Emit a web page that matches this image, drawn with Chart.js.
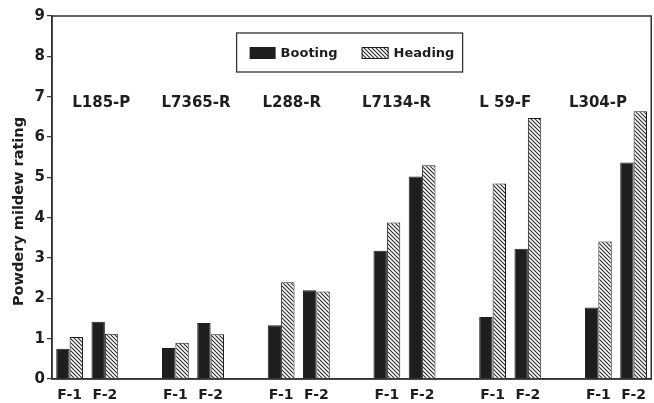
<!DOCTYPE html>
<html>
<head>
<meta charset="utf-8">
<script src="https://cdn.jsdelivr.net/npm/chart.js@4.4.1/dist/chart.umd.min.js"></script>
<style>
  html,body{margin:0;padding:0;background:#fff;}
  canvas{display:block;}
</style>
</head>
<body>
<canvas id="c" width="654" height="403"></canvas>
<script>
// ---- data ----
const groups = ['L185-P', 'L7365-R', 'L288-R', 'L7134-R', 'L 59-F', 'L304-P'];
const stages = ['F-1', 'F-2'];
const booting = [0.75, 1.42, 0.77, 1.39, 1.33, 2.20, 3.18, 5.02, 1.54, 3.23, 1.77, 5.37];
const heading = [1.04, 1.12, 0.90, 1.11, 2.40, 2.17, 3.88, 5.30, 4.85, 6.47, 3.41, 6.64];
const yTicks = [0, 1, 2, 3, 4, 5, 6, 7, 8, 9];
const seriesNames = ['Booting', 'Heading'];
const yTitle = 'Powdery mildew rating';

// build category slots: F-1, F-2, gap for each group (no trailing gap)
const labels = [], bootData = [], headData = [];
groups.forEach((g, gi) => {
  stages.forEach((s, si) => {
    labels.push(s);
    bootData.push(booting[gi * 2 + si]);
    headData.push(heading[gi * 2 + si]);
  });
  if (gi < groups.length - 1) { labels.push(''); bootData.push(null); headData.push(null); }
});

const INK = '#1e1e1e';
const FONT = '"DejaVu Sans", "Liberation Sans", Arial, sans-serif';

function makeHatch() {
  const p = document.createElement('canvas');
  p.width = 4; p.height = 4;
  const c = p.getContext('2d');
  c.fillStyle = '#fff'; c.fillRect(0, 0, 4, 4);
  c.strokeStyle = '#2a2a2a'; c.lineWidth = 1.1;
  c.beginPath();
  c.moveTo(-1, -1); c.lineTo(5, 5);
  c.moveTo(-1, 3); c.lineTo(1, 5);
  c.moveTo(3, -1); c.lineTo(5, 1);
  c.stroke();
  return document.getElementById('c').getContext('2d').createPattern(p, 'repeat');
}
const hatch = makeHatch();

const decorPlugin = {
  id: 'decor',
  afterDatasetsDraw(chart, args, opts) {
    const ctx = chart.ctx, a = chart.chartArea;
    const xs = chart.scales.x, ys = chart.scales.y;
    ctx.save();
    // frame
    ctx.strokeStyle = '#333'; ctx.lineWidth = 1.5;
    ctx.strokeRect(a.left, a.top, a.right - a.left, a.bottom - a.top);
    // y axis title
    ctx.save();
    ctx.translate(19, (a.top + a.bottom) / 2 + 14);
    ctx.rotate(-Math.PI / 2);
    ctx.fillStyle = INK;
    ctx.font = 'bold 14.5px ' + FONT;
    ctx.textAlign = 'center'; ctx.textBaseline = 'middle';
    ctx.fillText(yTitle, 0, 0);
    ctx.restore();
    // group labels
    ctx.fillStyle = INK;
    ctx.font = 'bold 15px ' + FONT;
    ctx.textAlign = 'center'; ctx.textBaseline = 'middle';
    groups.forEach((g, gi) => {
      const i0 = gi * 3;
      const x = (xs.getPixelForValue(i0) + xs.getPixelForValue(i0 + 1)) / 2 + opts.labelShift[gi];
      ctx.fillText(g, x, ys.getPixelForValue(6.84));
    });
    // legend
    const cx = (a.left + a.right) / 2 - 2;
    const bx = cx - 113, by = a.top + 17, bw = 226, bh = 39;
    ctx.fillStyle = '#fff';
    ctx.fillRect(bx, by, bw, bh);
    ctx.strokeStyle = '#333'; ctx.lineWidth = 1.3;
    ctx.strokeRect(bx, by, bw, bh);
    const sy = by + 14, sh = 12;
    ctx.fillStyle = INK;
    ctx.fillRect(bx + 13, sy, 26, sh);
    ctx.fillStyle = hatch;
    ctx.fillRect(bx + 125, sy, 27, sh);
    ctx.strokeStyle = INK; ctx.lineWidth = 1;
    ctx.strokeRect(bx + 125.5, sy + 0.5, 26, sh - 1);
    ctx.fillStyle = INK;
    ctx.font = 'bold 13px ' + FONT;
    ctx.textAlign = 'left';
    ctx.fillText(seriesNames[0], bx + 44, sy + sh / 2 + 1);
    ctx.fillText(seriesNames[1], bx + 157, sy + sh / 2 + 1);
    ctx.restore();
  }
};

new Chart(document.getElementById('c'), {
  type: 'bar',
  data: {
    labels: labels,
    datasets: [
      { label: seriesNames[0], data: bootData, backgroundColor: INK, borderColor: INK, borderWidth: 1 },
      { label: seriesNames[1], data: headData, backgroundColor: hatch, borderColor: INK, borderWidth: 1 }
    ]
  },
  options: {
    responsive: false,
    animation: false,
    events: [],
    layout: { padding: { left: 6, right: 2, top: 16, bottom: 0 } },
    datasets: { bar: { categoryPercentage: 0.76, barPercentage: 1.0, skipNull: false } },
    plugins: {
      legend: { display: false }, tooltip: { enabled: false },
      decor: { labelShift: [14, 3, -7, -8, -5, -18] }
    },
    scales: {
      x: {
        offset: true,
        grid: { display: false, drawTicks: false },
        border: { display: true, color: '#333', width: 1.5 },
        ticks: {
          autoSkip: false, maxRotation: 0, minRotation: 0, padding: 8,
          color: INK, font: { family: FONT, size: 14, weight: 'bold' }
        },
        afterFit(s) { s.height = 24; }
      },
      y: {
        min: 0, max: 9,
        afterBuildTicks(s) { s.ticks = yTicks.map(v => ({ value: v })); },
        grid: { drawOnChartArea: false, drawTicks: true, tickLength: 5, color: '#333', lineWidth: 1.2 },
        border: { display: true, color: '#333', width: 1.5 },
        ticks: {
          padding: 2, color: INK,
          font: { family: FONT, size: 15, weight: 'bold' }
        },
        title: { display: false },
        afterFit(s) { s.width = 46; }
      }
    }
  },
  plugins: [decorPlugin]
});
</script>
</body>
</html>
